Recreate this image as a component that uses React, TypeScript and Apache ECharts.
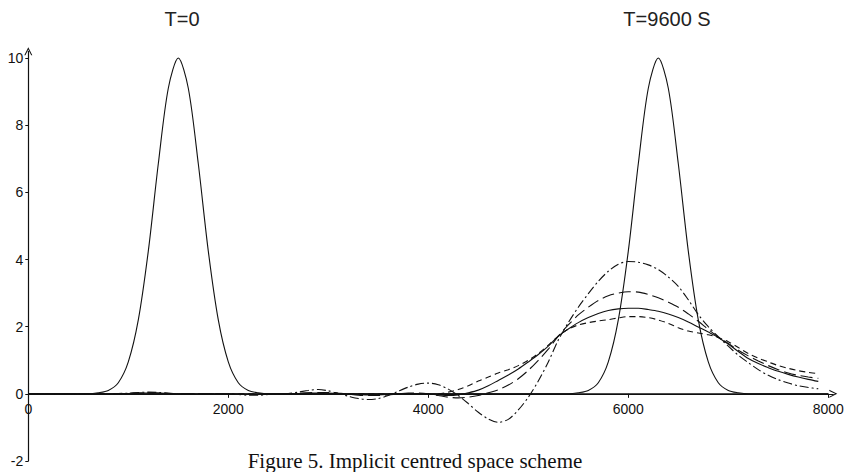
import React, { useEffect, useRef } from "react";
import * as echarts from "echarts";

// x positions (m)
const X = [
  0, 100, 200, 300, 400, 500, 600, 700, 800, 900,
  1000, 1100, 1200, 1300, 1400, 1500, 1600, 1700, 1800, 1900,
  2000, 2100, 2200, 2300, 2400, 2500, 2600, 2700, 2800, 2900,
  3000, 3100, 3200, 3300, 3400, 3500, 3600, 3700, 3800, 3900,
  4000, 4100, 4200, 4300, 4400, 4500, 4600, 4700, 4800, 4900,
  5000, 5100, 5200, 5300, 5400, 5500, 5600, 5700, 5800, 5900,
  6000, 6100, 6200, 6300, 6400, 6500, 6600, 6700, 6800, 6900,
  7000, 7100, 7200, 7300, 7400, 7500, 7600, 7700, 7800, 7900,
  8000,
];

// initial profile, T = 0
const initialProfile = [
  0, 0, 0, 0, 0, 0, 0, 0.03, 0.1, 0.33,
  0.95, 2.2, 4.25, 6.85, 9.1, 10, 9.1, 6.85, 4.25, 2.2,
  0.95, 0.33, 0.1, 0.03, 0, 0, 0, 0, 0, 0,
  0, 0, 0, 0, 0, 0, 0, 0, 0, 0,
  0, 0, 0, 0, 0, 0, 0, 0, 0, 0,
  0, 0, 0, 0, 0, 0, 0, 0, 0, 0,
  0, 0, 0, 0, 0, 0, 0, 0, 0, 0,
  0, 0, 0, 0, 0, 0, 0, 0, 0, 0,
  0,
];

// exact solution, T = 9600 s
const exactProfile = [
  0, 0, 0, 0, 0, 0, 0, 0, 0, 0,
  0, 0, 0, 0, 0, 0, 0, 0, 0, 0,
  0, 0, 0, 0, 0, 0, 0, 0, 0, 0,
  0, 0, 0, 0, 0, 0, 0, 0, 0, 0,
  0, 0, 0, 0, 0, 0, 0, 0, 0, 0,
  0, 0, 0, 0, 0, 0.03, 0.1, 0.33, 0.95, 2.2,
  4.25, 6.85, 9.1, 10, 9.1, 6.85, 4.25, 2.2, 0.95, 0.33,
  0.1, 0.03, 0, 0, 0, 0, 0, 0, 0, 0,
  0,
];

// numerical solutions, T = 9600 s
const dashDotProfile = [
  0, 0, 0, 0, 0, 0, 0, 0, 0, 0.01,
  0.02, 0.04, 0.05, 0.04, 0.02, 0, -0.01, -0.01, 0, 0,
  0, -0.02, -0.04, -0.04, -0.02, 0, 0.01, 0.05, 0.1, 0.13,
  0.09, 0.01, -0.07, -0.14, -0.17, -0.14, -0.05, 0.08, 0.2, 0.29,
  0.32, 0.27, 0.14, -0.05, -0.29, -0.55, -0.75, -0.85, -0.76, -0.48,
  -0.1, 0.38, 0.95, 1.6, 2.12, 2.58, 2.98, 3.35, 3.65, 3.86,
  3.94, 3.92, 3.84, 3.7, 3.48, 3.2, 2.8, 2.36, 2.0, 1.7,
  1.42, 1.15, 0.93, 0.72, 0.55, 0.42, 0.32, 0.24, 0.19, 0.15,
];

const longDashProfile = [
  0, 0, 0, 0, 0, 0, 0, 0, 0, 0,
  0.01, 0.02, 0.03, 0.02, 0.01, 0, 0, 0, 0, 0,
  0, -0.01, -0.02, -0.02, -0.01, 0, 0, 0.01, 0.03, 0.04,
  0.04, 0.02, -0.01, -0.04, -0.05, -0.05, -0.03, 0, 0.02, 0.02,
  0, -0.05, -0.1, -0.12, -0.1, -0.05, 0.03, 0.12, 0.26, 0.45,
  0.7, 1.0, 1.33, 1.72, 2.05, 2.35, 2.58, 2.78, 2.92, 3.0,
  3.04, 3.03, 2.96, 2.86, 2.73, 2.58, 2.38, 2.16, 1.92, 1.69,
  1.5, 1.3, 1.13, 0.98, 0.84, 0.72, 0.62, 0.55, 0.5, 0.46,
];

const solidProfile = [
  0, 0, 0, 0, 0, 0, 0, 0, 0, 0,
  0.01, 0.02, 0.02, 0.02, 0.01, 0, 0, 0, 0, 0,
  0, -0.01, -0.01, -0.01, 0, 0, 0, 0.01, 0.02, 0.02,
  0.02, 0.01, -0.01, -0.02, -0.03, -0.03, -0.02, 0, 0.01, 0.01,
  0, -0.03, -0.05, -0.03, 0.03, 0.11, 0.24, 0.4, 0.56, 0.74,
  0.95, 1.17, 1.42, 1.72, 1.93, 2.12, 2.27, 2.39, 2.48, 2.53,
  2.55, 2.55, 2.51, 2.46, 2.38, 2.27, 2.14, 1.99, 1.84, 1.68,
  1.48, 1.26, 1.05, 0.9, 0.78, 0.67, 0.58, 0.5, 0.43, 0.37,
];

const shortDashProfile = [
  0, 0, 0, 0, 0, 0, 0, 0, 0, 0,
  0, 0.01, 0.02, 0.01, 0, 0, 0, 0, 0, 0,
  0, 0, 0, 0, 0, 0, 0, 0, 0, 0,
  0, 0, 0, 0, 0, 0, 0, 0, 0, -0.02,
  -0.02, 0, 0.05, 0.13, 0.24, 0.38, 0.5, 0.62, 0.72, 0.84,
  1.0, 1.2, 1.45, 1.72, 1.93, 2.05, 2.12, 2.17, 2.21, 2.26,
  2.3, 2.3, 2.27, 2.2, 2.1, 1.97, 1.87, 1.81, 1.76, 1.68,
  1.55, 1.38, 1.2, 1.06, 0.95, 0.84, 0.76, 0.69, 0.64, 0.6,
];

const X_TICKS = [0, 2000, 4000, 6000, 8000];
const Y_TICKS = [-2, 0, 2, 4, 6, 8, 10];
const Y_MIN = -2;
const Y_MAX = 10.2;

const TITLE_LEFT = "T=0";
const TITLE_RIGHT = "T=9600 S";
const CAPTION = "Figure 5. Implicit centred space scheme";

const pairs = (ys: number[]) => ys.map((y, i) => [X[i], y]);

const INK = "#111";
const W = 845;
const H = 472;
const GRID = { left: 28.3, right: 11.7, top: 51.3, bottom: 11 };

export default function App() {
  const ref = useRef<HTMLDivElement>(null);
  useEffect(() => {
    if (!ref.current) return;
    const chart = echarts.init(ref.current, null, { renderer: "svg" });
    const line = (name: string, ys: number[], type: any, z = 2) => ({
      name,
      type: "line",
      data: pairs(ys),
      showSymbol: false,
      smooth: 0.3,
      clip: false,
      z,
      lineStyle: { color: INK, width: 1.1, type },
      emphasis: { disabled: true },
    });
    const arrow = "path://M0,10 L5,0 L10,10 L8.6,10 L5,2.8 L1.4,10 Z";
    const gridH = H - GRID.top - GRID.bottom;
    // move the x axis from the grid bottom (y = -2) up to y = 0
    const zeroOffset = -((0 - Y_MIN) / (Y_MAX - Y_MIN)) * gridH;
    chart.setOption({
      animation: false,
      backgroundColor: "#fff",
      grid: { ...GRID, containLabel: false, outerBoundsMode: "none" },
      xAxis: {
        type: "value",
        min: 0,
        max: 8050,
        interval: 2000,
        position: "bottom",
        offset: zeroOffset,
        splitLine: { show: false },
        axisLine: {
          onZero: false,
          lineStyle: { color: INK, width: 1.2 },
          symbol: ["none", arrow],
          symbolSize: [8, 11],
        },
        axisTick: { show: true, length: 4, lineStyle: { color: INK } },
        axisLabel: {
          showMaxLabel: false,
          margin: 8,
          fontFamily: "Liberation Sans",
          fontSize: 14,
          color: INK,
          formatter: (v: number) => (X_TICKS.includes(v) ? String(v) : ""),
        },
      },
      yAxis: {
        type: "value",
        min: Y_MIN,
        max: Y_MAX,
        interval: 2,
        splitLine: { show: false },
        axisLine: {
          onZero: false,
          lineStyle: { color: INK, width: 1.2 },
          symbol: ["none", arrow],
          symbolSize: [8, 11],
        },
        axisTick: { show: true, length: 3, lineStyle: { color: INK } },
        axisLabel: {
          showMaxLabel: false,
          margin: 5,
          fontFamily: "Liberation Sans",
          fontSize: 14,
          color: INK,
          formatter: (v: number) => (Y_TICKS.includes(v) ? String(v) : ""),
        },
      },
      series: [
        line("T=0", initialProfile, "solid"),
        line("exact", exactProfile, "solid"),
        line("dash-dot", dashDotProfile, [9, 3, 2, 3]),
        line("long dash", longDashProfile, [12, 5]),
        line("solid", solidProfile, "solid"),
        line("short dash", shortDashProfile, [6, 4]),
      ],
      graphic: [
        {
          type: "text",
          x: 182,
          y: 19,
          style: {
            text: TITLE_LEFT,
            fontFamily: "Liberation Sans",
            fontSize: 20,
            fill: "#222",
            align: "center",
            verticalAlign: "middle",
          },
        },
        {
          type: "text",
          x: 667,
          y: 19,
          style: {
            text: TITLE_RIGHT,
            fontFamily: "Liberation Sans",
            fontSize: 20,
            fill: "#222",
            align: "center",
            verticalAlign: "middle",
          },
        },
        {
          type: "text",
          x: 415,
          y: 461,
          style: {
            text: CAPTION,
            fontFamily: "Liberation Serif",
            fontSize: 21,
            fill: "#111",
            align: "center",
            verticalAlign: "middle",
          },
        },
      ],
    });
    return () => chart.dispose();
  }, []);
  return (
    <div
      ref={ref}
      style={{ position: "absolute", left: 0, top: 0, width: W, height: H }}
    />
  );
}
